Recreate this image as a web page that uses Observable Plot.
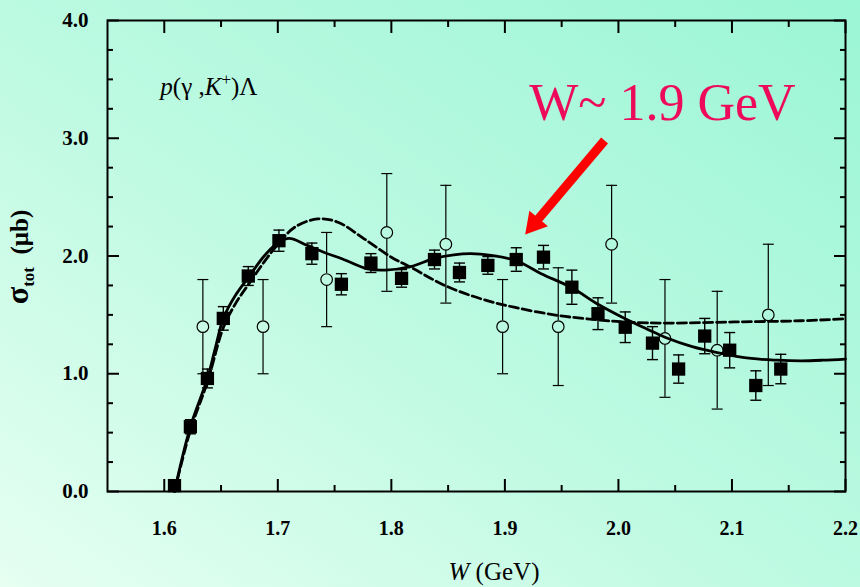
<!DOCTYPE html>
<html><head><meta charset="utf-8">
<script src="https://cdn.jsdelivr.net/npm/d3@7"></script>
<script src="https://cdn.jsdelivr.net/npm/@observablehq/plot@0.6"></script>
<style>
html,body{margin:0;padding:0;width:860px;height:587px;overflow:hidden;}
body{background:linear-gradient(to top right,#e6fff2 0%,#bffae3 45%,#9bf6d6 100%);}
#chart{position:relative;width:860px;height:587px;}
</style></head><body><div id="chart"></div>
<script>
// ---- axis ticks ----
const xMajor = [1.6, 1.7, 1.8, 1.9, 2.0, 2.1, 2.2];
const xMinor = [1.65, 1.75, 1.85, 1.95, 2.05, 2.15];
const yMajor = [0, 1, 2, 3, 4];
const yMinor = [0.25, 0.5, 0.75, 1.25, 1.5, 1.75, 2.25, 2.5, 2.75, 3.25, 3.5, 3.75];

// ---- filled squares (data with error bars) ----
const sqW     = [1.609, 1.623, 1.638, 1.652, 1.674, 1.701, 1.730, 1.756, 1.782, 1.809, 1.838, 1.860, 1.885, 1.910, 1.934, 1.959, 1.982, 2.006, 2.030, 2.053, 2.076, 2.098, 2.121, 2.143];
const sqSigma = [0.05, 0.55, 0.96, 1.47, 1.83, 2.13, 2.02, 1.76, 1.94, 1.81, 1.97, 1.86, 1.92, 1.97, 1.99, 1.735, 1.51, 1.395, 1.26, 1.04, 1.32, 1.20, 0.90, 1.04];
const sqErr   = [0.03, 0.06, 0.08, 0.10, 0.08, 0.09, 0.09, 0.09, 0.08, 0.075, 0.08, 0.08, 0.075, 0.10, 0.10, 0.145, 0.135, 0.13, 0.14, 0.12, 0.15, 0.15, 0.125, 0.125];

// ---- open circles (data with error bars) ----
const circW     = [1.634, 1.687, 1.743, 1.796, 1.848, 1.898, 1.947, 1.994, 2.041, 2.087, 2.132];
const circSigma = [1.40, 1.40, 1.80, 2.20, 2.10, 1.40, 1.40, 2.10, 1.30, 1.20, 1.50];
const circErr   = [0.40, 0.40, 0.40, 0.50, 0.50, 0.40, 0.50, 0.50, 0.50, 0.50, 0.60];

// ---- solid model curve ----
const solidW     = [1.609, 1.623, 1.638, 1.645, 1.652, 1.663, 1.675, 1.688, 1.700, 1.710, 1.726, 1.741, 1.757, 1.779, 1.795, 1.817, 1.838, 1.855, 1.870, 1.888, 1.910, 1.932, 1.959, 1.982, 2.006, 2.025, 2.041, 2.065, 2.087, 2.117, 2.140, 2.161, 2.180, 2.200];
const solidSigma = [0.00, 0.55, 0.96, 1.22, 1.47, 1.67, 1.83, 2.00, 2.11, 2.15, 2.09, 2.03, 1.975, 1.89, 1.88, 1.91, 1.98, 2.01, 2.02, 2.005, 1.96, 1.85, 1.73, 1.59, 1.467, 1.38, 1.31, 1.23, 1.18, 1.13, 1.115, 1.11, 1.115, 1.125];

// ---- dashed model curve ----
const dashW     = [1.609, 1.623, 1.638, 1.652, 1.663, 1.675, 1.688, 1.701, 1.715, 1.735, 1.753, 1.776, 1.800, 1.817, 1.847, 1.879, 1.908, 1.947, 1.982, 2.008, 2.044, 2.102, 2.161, 2.200];
const dashSigma = [0.00, 0.52, 0.93, 1.39, 1.60, 1.77, 1.95, 2.11, 2.245, 2.315, 2.287, 2.146, 1.99, 1.905, 1.75, 1.636, 1.565, 1.495, 1.458, 1.438, 1.43, 1.44, 1.45, 1.467];

// ---- annotations ----
const annotText  = ["W~ 1.9 GeV"];
const annotW     = [1.9214];
const annotSigma = [3.30];
const arrowFromW = [1.9878], arrowFromSigma = [2.981];
const arrowToW   = [1.9258], arrowToSigma   = [2.273];
const reactionW  = 1.597, reactionSigma = 3.363;

const capSymbol = {draw(ctx, size) { const w = Math.sqrt(size / Math.PI); ctx.moveTo(-w, 0); ctx.lineTo(w, 0); }};
const fmt = d3.format(".1f");

const sqCaps = sqW.flatMap((w, i) => [{w, s: sqSigma[i] - sqErr[i]}, {w, s: sqSigma[i] + sqErr[i]}]);
const circCaps = circW.flatMap((w, i) => [{w, s: circSigma[i] - circErr[i]}, {w, s: circSigma[i] + circErr[i]}]);

const plot = Plot.plot({
  width: 860, height: 587,
  marginLeft: 107, marginRight: 15, marginTop: 20, marginBottom: 96,
  x: {domain: [1.55, 2.2]},
  y: {domain: [0, 4]},
  style: {background: "transparent", fontFamily: "'Liberation Serif', 'Times New Roman', serif", overflow: "visible"},
  marks: [
    // axes: ticks inward
    Plot.axisX(xMajor, {anchor: "bottom", tickSize: -12, tickPadding: 41, tickFormat: fmt, strokeWidth: 2, label: null, fontSize: 20, fontWeight: "bold"}),
    Plot.axisX(xMinor, {anchor: "bottom", tickSize: -6, tickFormat: () => "", strokeWidth: 2, label: null}),
    Plot.axisX(xMajor, {anchor: "top", tickSize: -12, tickFormat: () => "", strokeWidth: 2, label: null}),
    Plot.axisX(xMinor, {anchor: "top", tickSize: -6, tickFormat: () => "", strokeWidth: 2, label: null}),
    Plot.axisY(yMajor, {anchor: "left", tickSize: -12, tickPadding: 31, tickFormat: fmt, strokeWidth: 2, label: null, fontSize: 21, fontWeight: "bold"}),
    Plot.axisY(yMinor, {anchor: "left", tickSize: -6, tickFormat: () => "", strokeWidth: 2, label: null}),
    Plot.axisY(yMajor, {anchor: "right", tickSize: -12, tickFormat: () => "", strokeWidth: 2, label: null}),
    Plot.axisY(yMinor, {anchor: "right", tickSize: -6, tickFormat: () => "", strokeWidth: 2, label: null}),
    Plot.frame({stroke: "black", strokeWidth: 2}),
    // curves
    Plot.line(dashSigma, {x: dashW, y: dashSigma, curve: "catmull-rom", stroke: "black", strokeWidth: 2.8, strokeDasharray: "9,4"}),
    Plot.line(solidSigma, {x: solidW, y: solidSigma, curve: "catmull-rom", stroke: "black", strokeWidth: 2.8}),
    // circle error bars (gap inside circle)
    Plot.ruleX(circSigma, {x: circW, y1: circSigma.map((s, i) => s + circErr[i]), y2: circSigma, insetBottom: 6, stroke: "black", strokeWidth: 1.2}),
    Plot.ruleX(circSigma, {x: circW, y1: circSigma, y2: circSigma.map((s, i) => s - circErr[i]), insetTop: 6, stroke: "black", strokeWidth: 1.2}),
    Plot.dot(circCaps, {x: "w", y: "s", symbol: capSymbol, r: 5.5, stroke: "black", strokeWidth: 1.2, fill: "none"}),
    Plot.dot(circSigma, {x: circW, y: circSigma, r: 5.8, stroke: "black", strokeWidth: 1.2, fill: "none"}),
    // square error bars
    Plot.ruleX(sqSigma, {x: sqW, y1: sqSigma.map((s, i) => s - sqErr[i]), y2: sqSigma.map((s, i) => s + sqErr[i]), stroke: "black", strokeWidth: 1.4}),
    Plot.dot(sqCaps, {x: "w", y: "s", symbol: capSymbol, r: 5.5, stroke: "black", strokeWidth: 1.4, fill: "none"}),
    Plot.dot(sqSigma, {x: sqW, y: sqSigma, symbol: "square", r: 7.5, fill: "black", stroke: "none"}),
    // annotation
    Plot.text(annotText, {x: annotW, y: annotSigma, text: d => d, textAnchor: "start", lineAnchor: "middle", fontSize: 52, fill: "#ee0a5a", fontWeight: "normal"}),
    Plot.link(arrowFromW, {x1: arrowFromW, y1: arrowFromSigma, x2: arrowToW, y2: arrowToSigma, stroke: "#ff0000", strokeWidth: 9}),
    Plot.dot(arrowToW, {x: arrowToW, y: arrowToSigma, symbol: "triangle", r: 9, rotate: 220, fill: "#ff0000", stroke: "none"})
  ]
});

document.getElementById("chart").appendChild(plot);

// extra rich-text labels
const svg = d3.select(plot);
const sx = plot.scale("x"), sy = plot.scale("y");
const rx = svg.append("text")
  .attr("x", sx.apply(reactionW)).attr("y", sy.apply(reactionSigma))
  .attr("text-anchor", "start")
  .attr("font-size", 25).attr("font-family", "'Liberation Serif', serif").attr("fill", "black");
rx.append("tspan").attr("font-style", "italic").text("p");
rx.append("tspan").text("(γ ,");
rx.append("tspan").attr("font-style", "italic").text("K");
rx.append("tspan").attr("font-size", 17).attr("dy", -10).text("+");
rx.append("tspan").attr("dy", 10).text(")Λ");

const yl = svg.append("text")
  .attr("transform", "translate(28,257) rotate(-90)")
  .attr("text-anchor", "middle")
  .attr("font-size", 25).attr("font-weight", "bold").attr("font-family", "'Liberation Serif', serif").attr("fill", "black");
yl.append("tspan").attr("font-size", 32).text("σ");
yl.append("tspan").attr("font-size", 17).attr("dy", 6).text("tot");
yl.append("tspan").attr("dy", -6).text("\u2002(μb)");

const xl = svg.append("text")
  .attr("x", 494).attr("y", 580)
  .attr("text-anchor", "middle")
  .attr("font-size", 25).attr("font-family", "'Liberation Serif', serif").attr("fill", "black");
xl.append("tspan").attr("font-style", "italic").text("W");
xl.append("tspan").text(" (GeV)");
</script></body></html>
